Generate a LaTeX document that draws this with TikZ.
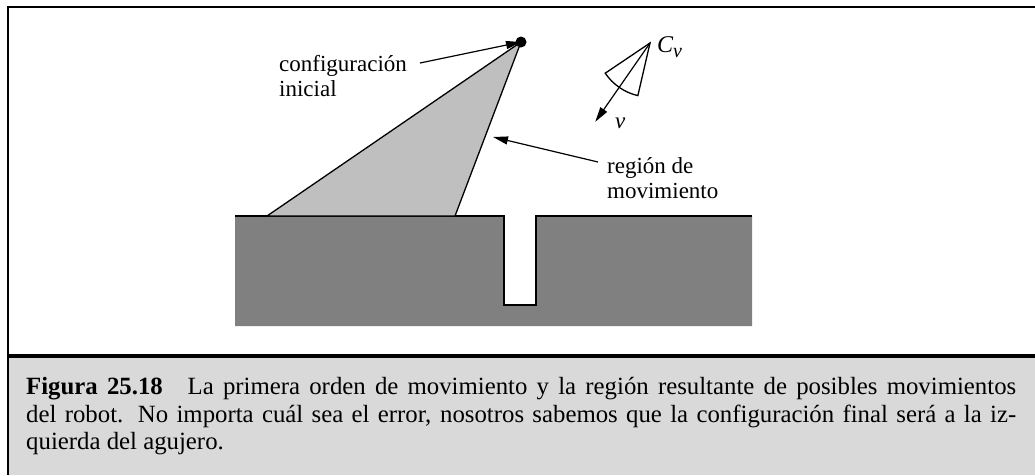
\documentclass[tikz,border=0pt]{standalone}
\usepackage{fontspec}
\setmainfont{Liberation Serif}
\usetikzlibrary{arrows.meta}

\tikzset{
  labeltext/.style={font=\fontsize{23}{25.5}\selectfont, align=left, inner sep=0pt},
  pointer/.style={-{Triangle[length=15pt,width=8pt]}, line width=1.2pt},
  edge line/.style={line width=1.3pt},
}

\begin{document}
\begin{tikzpicture}[x=1pt, y=-1pt, line join=miter]
\useasboundingbox (0,0) rectangle (1035,475);

% =================== frame and caption box ===================
\fill[black!15] (8,357) rectangle (1035,475);
\draw[line width=2pt] (8,475) -- (8,7) -- (1035,7);
\draw[line width=4pt] (8,356) -- (1035,356);

\node[anchor=north west, inner sep=0pt, text width=990pt, align=justify,
      font=\fontsize{24.8}{27.5}\selectfont] (caption) at (26,377.5)
  {\textbf{Figura 25.18}\quad La primera orden de movimiento y la región resultante de posibles movimientos\linebreak
   del robot. No importa cuál sea el error, nosotros sabemos que la configuración final será a la iz-\linebreak
   quierda del agujero.};

% =================== ground with hole ===================
\coordinate (G1) at (235,216);
\coordinate (H1) at (504,216);
\coordinate (H2) at (504,305);
\coordinate (H3) at (536,305);
\coordinate (H4) at (536,216);
\coordinate (G2) at (752,216);
\fill[black!50] (G1) -- (H1) -- (H2) -- (H3) -- (H4) -- (G2) -- (752,326) -- (235,326) -- cycle;
\draw[edge line] (G1) -- (H1) -- (H2) -- (H3) -- (H4) -- (G2);

% =================== region of motion ===================
\coordinate (start) at (521,42);
\coordinate (R1) at (267,216);
\coordinate (R2) at (455,216);
\filldraw[fill=black!25, edge line] (start) -- (R1) -- (R2) -- cycle;
\fill (start) circle (5.5pt);

% labels with pointers
\node[labeltext, anchor=north west] (initlabel) at (279,55) {configuración\\inicial};
\draw[pointer] (420,63) -- (start);

\coordinate (regionpt) at (493,137);
\node[labeltext, anchor=north west] (regionlabel) at (607,157) {región de\\movimiento};
\draw[pointer] (598,162) -- (regionpt);

% =================== velocity cone ===================
\coordinate (cone) at (650,43);
\draw[edge line] (cone) -- ++(103:54) arc[start angle=103, end angle=146, radius=54] -- cycle;
\draw[pointer] (cone) -- ++(124.8:96) coordinate (vtip);
\node[font=\fontsize{23}{26}\selectfont\itshape, anchor=base west, inner sep=0pt] (vlabel) at (615,128) {v};
\node[font=\fontsize{24}{26}\selectfont\itshape, anchor=base west, inner sep=0pt] (conelabel) at (657,52)
  {C\raisebox{-5pt}{\fontsize{20}{22}\selectfont v}};

\end{tikzpicture}
\end{document}
